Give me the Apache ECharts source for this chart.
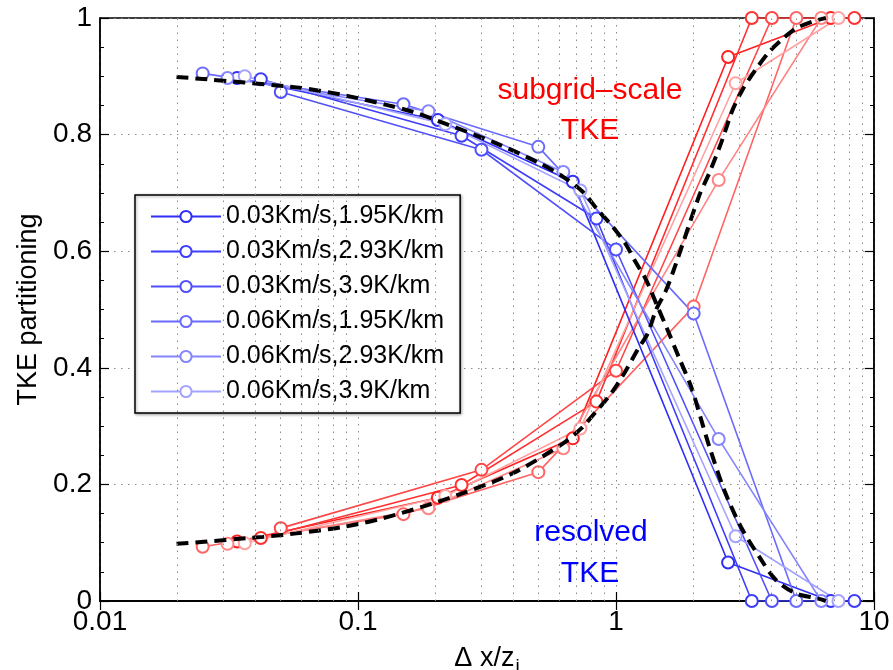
<!DOCTYPE html>
<html>
<head>
<meta charset="utf-8">
<script src="https://cdn.jsdelivr.net/npm/echarts@6/dist/echarts.min.js"></script>
<style>
html,body{margin:0;padding:0;background:#fff;}
#chart{width:893px;height:670px;}
</style>
</head>
<body>
<div id="chart"></div>
<script>
// ---- data ----
const names = ['0.03Km/s,1.95K/km','0.03Km/s,2.93K/km','0.03Km/s,3.9K/km','0.06Km/s,1.95K/km','0.06Km/s,2.93K/km','0.06Km/s,3.9K/km'];

const xA = [0.034, 0.204, 0.68, 2.72, 6.8];
const xB = [0.042, 0.252, 0.84, 3.36, 8.4];
const xC = [0.0502, 0.301, 1.0, 4.02];
const xD = [0.025, 0.15, 0.5, 2.0, 5.0];
const xE = [0.0312, 0.1875, 0.625, 2.5, 6.25];
const xF = [0.0364, 0.218, 0.728, 2.91, 7.28];

const resolvedA = [0.897, 0.825, 0.719, 0.066, 0];
const resolvedB = [0.895, 0.798, 0.656, 0, 0];
const resolvedC = [0.873, 0.774, 0.603, 0];
const resolvedD = [0.905, 0.852, 0.779, 0.493, 0];
const resolvedE = [0.897, 0.840, 0.736, 0.278, 0];
const resolvedF = [0.900, 0.818, 0.704, 0.111, 0];

const subgridA = [0.102, 0.177, 0.279, 0.933, 1];
const subgridB = [0.108, 0.199, 0.342, 1, 1];
const subgridC = [0.125, 0.225, 0.395, 1];
const subgridD = [0.093, 0.149, 0.221, 0.505, 1];
const subgridE = [0.098, 0.159, 0.262, 0.722, 1];
const subgridF = [0.099, 0.180, 0.296, 0.888, 1];

const fitResolvedX = [0.0198, 0.0577, 0.0875, 0.1288, 0.1633, 0.2265, 0.3435, 0.505, 0.622, 0.743, 0.849, 0.971, 1.094, 1.196, 1.308, 1.449, 1.585, 1.760, 1.954, 2.136, 2.299, 2.629, 3.051, 3.589, 4.167, 4.98, 5.96, 6.51];
const fitResolvedY = [0.899, 0.881, 0.868, 0.851, 0.839, 0.816, 0.785, 0.751, 0.728, 0.702, 0.671, 0.642, 0.611, 0.580, 0.551, 0.505, 0.465, 0.416, 0.368, 0.312, 0.265, 0.190, 0.127, 0.076, 0.036, 0.013, 0.005, 0.0];
const fitSubgridX = [0.0198, 0.0429, 0.0577, 0.0875, 0.125, 0.1785, 0.255, 0.398, 0.622, 0.733, 0.837, 0.957, 1.078, 1.213, 1.327, 1.429, 1.563, 1.709, 2.104, 2.299, 2.552, 2.83, 3.094, 3.486, 3.926, 4.42, 4.98, 5.77, 6.51];
const fitSubgridY = [0.098, 0.110, 0.116, 0.127, 0.142, 0.162, 0.185, 0.219, 0.270, 0.296, 0.325, 0.356, 0.391, 0.431, 0.459, 0.499, 0.533, 0.579, 0.696, 0.734, 0.785, 0.842, 0.877, 0.912, 0.942, 0.964, 0.982, 0.994, 1.0];

const xMinorGrid = [0.02,0.03,0.04,0.05,0.06,0.07,0.08,0.09,0.2,0.3,0.4,0.5,0.6,0.7,0.8,0.9,2,3,4,5,6,7,8,9];

// ---- styling ----
const FONT = "'Liberation Sans', Arial, sans-serif";
const blueColors = ['#2f2ff5','#3d3dfa','#5050fa','#6a6afc','#8585fd','#a3a3ff'];
const redColors  = ['#ff2020','#ff3030','#ff4646','#ff6464','#ff8484','#ffa2a2'];

const xs = [xA, xB, xC, xD, xE, xF];
const resolved = [resolvedA, resolvedB, resolvedC, resolvedD, resolvedE, resolvedF];
const subgrid = [subgridA, subgridB, subgridC, subgridD, subgridE, subgridF];

function pairs(x, y){ return x.map((v,i)=>[v, y[i]]); }

const series = [];
series.push({
  type:'line', name:'_grid', data:[], silent:true, legendHoverLink:false,
  markLine:{
    silent:true, symbol:['none','none'], label:{show:false},
    lineStyle:{color:'#8a8a8a', type:[1.5,5.5], width:1},
    emphasis:{disabled:true},
    data: xMinorGrid.map(v=>({xAxis:v}))
  }
});
for (let i=0;i<6;i++){
  series.push({
    type:'line', name:'sg_'+i, data:pairs(xs[i], subgrid[i]),
    symbol:'emptyCircle', symbolSize:12,
    lineStyle:{color:redColors[i], width:1.6},
    itemStyle:{color:redColors[i], borderColor:redColors[i], borderWidth:1.5},
    emphasis:{disabled:true}, z:3
  });
}
for (let i=0;i<6;i++){
  series.push({
    type:'line', name:names[i], data:pairs(xs[i], resolved[i]),
    symbol:'emptyCircle', symbolSize:12,
    lineStyle:{color:blueColors[i], width:1.6},
    itemStyle:{color:blueColors[i], borderColor:blueColors[i], borderWidth:1.5},
    emphasis:{disabled:true}, z:3
  });
}
series.push({
  type:'line', name:'fitResolved', data:pairs(fitResolvedX, fitResolvedY),
  symbol:'none', smooth:0.3,
  lineStyle:{color:'#000', width:4, type:[12,7]}, z:4, emphasis:{disabled:true}
});
series.push({
  type:'line', name:'fitSubgrid', data:pairs(fitSubgridX, fitSubgridY),
  symbol:'none', smooth:0.3,
  lineStyle:{color:'#000', width:4, type:[12,7]}, z:4, emphasis:{disabled:true}
});

const chart = echarts.init(document.getElementById('chart'), null, {renderer:'canvas'});
chart.setOption({
  backgroundColor:'#fff',
  animation:false,
  textStyle:{fontFamily:FONT},
  grid:{left:100, right:19, top:18, bottom:69, containLabel:false, outerBoundsMode:'none',
        show:true, borderColor:'#000', borderWidth:1.5, backgroundColor:'transparent'},
  legend:{
    data:names, orient:'vertical', left:135, top:195,
    backgroundColor:'#fff', borderColor:'#000', borderWidth:1.5,
    shadowColor:'rgba(0,0,0,0.35)', shadowBlur:3, shadowOffsetX:1, shadowOffsetY:1,
    padding:[9,16,9,15], itemWidth:70, itemHeight:14, itemGap:10,
    textStyle:{fontSize:25, fontFamily:FONT, color:'#000', lineHeight:25},
    selectedMode:false
  },
  xAxis:[{
    type:'log', logBase:10, min:0.01, max:10,
    axisLine:{show:true, lineStyle:{color:'#000', width:1.5}},
    axisTick:{show:true, inside:true, length:9, lineStyle:{color:'#000', width:1.2}},
    axisLabel:{fontSize:28, color:'#000', margin:7, fontFamily:FONT,
      formatter:v=>String(parseFloat(Number(v).toPrecision(3)))},
    splitLine:{show:true, lineStyle:{color:'#8a8a8a', type:[1.5,5.5], width:1}},
    name:'{a|Δ x/z}{b|i}', nameLocation:'middle', nameGap:36,
    nameTextStyle:{rich:{
      a:{fontSize:27, fontFamily:FONT, color:'#000', lineHeight:32},
      b:{fontSize:19, fontFamily:FONT, color:'#000', lineHeight:32, padding:[16,0,0,1]}
    }}
  },{
    type:'log', logBase:10, min:0.01, max:10, position:'top',
    axisLine:{show:true, lineStyle:{color:'#000', width:1.5}},
    axisTick:{show:true, inside:true, length:9, lineStyle:{color:'#000', width:1.2}},
    axisLabel:{show:false}, splitLine:{show:false}
  }],
  yAxis:[{
    type:'value', min:0, max:1, interval:0.2,
    axisLine:{show:true, lineStyle:{color:'#000', width:1.5}},
    axisTick:{show:true, inside:true, length:9, lineStyle:{color:'#000', width:1.2}},
    minorTick:{show:true, splitNumber:4, length:4, lineStyle:{color:'#000'}},
    axisLabel:{fontSize:28, color:'#000', margin:8, fontFamily:FONT},
    splitLine:{show:true, lineStyle:{color:'#8a8a8a', type:[1.5,5.5], width:1}},
    name:'TKE partitioning', nameLocation:'middle', nameGap:58, nameRotate:90,
    nameTextStyle:{fontSize:27, color:'#000', fontFamily:FONT}
  },{
    type:'value', min:0, max:1, interval:0.2, position:'right',
    axisLine:{show:true, lineStyle:{color:'#000', width:1.5}},
    axisTick:{show:true, inside:true, length:9, lineStyle:{color:'#000', width:1.2}},
    minorTick:{show:true, splitNumber:4, length:4, lineStyle:{color:'#000'}},
    axisLabel:{show:false}, splitLine:{show:false}
  }],
  graphic:[
    {type:'text', x:590, y:91, z:100, style:{text:'subgrid–scale', fill:'#ff0000', fontSize:30, fontFamily:FONT, align:'center', verticalAlign:'middle'}},
    {type:'text', x:590, y:131, z:100, style:{text:'TKE', fill:'#ff0000', fontSize:30, fontFamily:FONT, align:'center', verticalAlign:'middle'}},
    {type:'text', x:591, y:533, z:100, style:{text:'resolved', fill:'#0000ff', fontSize:30, fontFamily:FONT, align:'center', verticalAlign:'middle'}},
    {type:'text', x:590, y:574, z:100, style:{text:'TKE', fill:'#0000ff', fontSize:30, fontFamily:FONT, align:'center', verticalAlign:'middle'}}
  ],
  series: series
});
</script>
</body>
</html>
